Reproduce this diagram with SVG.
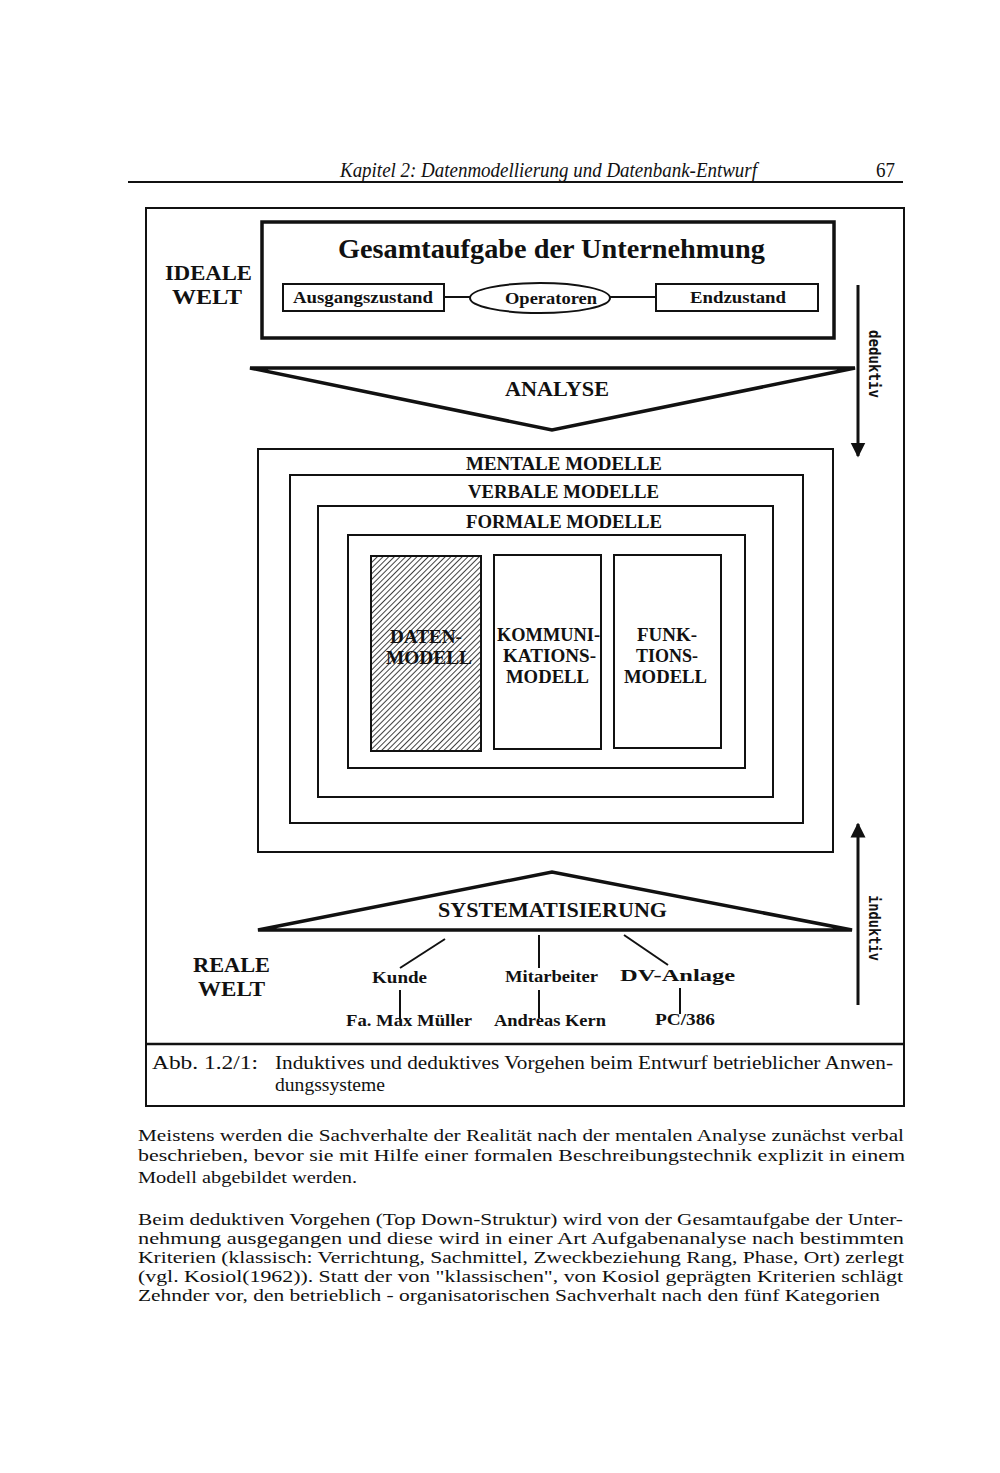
<svg xmlns="http://www.w3.org/2000/svg" width="1000" height="1473" viewBox="0 0 1000 1473">
<style>
.s{font-family:"Liberation Serif","Times New Roman",serif;fill:#111}
.b{font-weight:bold}
.box{fill:#fff;stroke:#111;stroke-width:2}
.ln{stroke:#111;stroke-width:2;fill:none}
.body{font-family:"Liberation Serif","Times New Roman",serif;font-size:16.5px;fill:#111}
.rot{font-family:"DejaVu Sans Mono","Liberation Mono",monospace;font-weight:bold;font-size:15px;fill:#111}
</style>
<defs>
<pattern id="hatch" patternUnits="userSpaceOnUse" width="4" height="4" patternTransform="rotate(45)">
<rect width="4" height="4" fill="#fff"/>
<line x1="0" y1="0" x2="0" y2="4" stroke="#111" stroke-width="1.6"/>
</pattern>
<marker id="ah" viewBox="0 0 10 10" refX="9" refY="5" markerWidth="5" markerHeight="6" orient="auto" markerUnits="strokeWidth">
<path d="M0,0 L10,5 L0,10 z" fill="#111"/>
</marker>
</defs>
<rect width="1000" height="1473" fill="#fff"/>

<g id="header">
<text class="s" x="340" y="177" font-size="20" font-style="italic" textLength="417" lengthAdjust="spacingAndGlyphs">Kapitel 2: Datenmodellierung und Datenbank-Entwurf</text>
<text class="s" x="876" y="177" font-size="20" textLength="19" lengthAdjust="spacingAndGlyphs">67</text>
<line x1="128" y1="182" x2="903" y2="182" stroke="#111" stroke-width="2"/>
</g>

<g id="frame">
<rect x="146" y="208" width="758" height="898" fill="none" stroke="#111" stroke-width="2"/>
<line x1="146" y1="1044" x2="904" y2="1044" stroke="#111" stroke-width="2.5"/>
</g>

<g id="ideale-welt">
<text class="s b" x="165" y="280" font-size="21" textLength="87" lengthAdjust="spacingAndGlyphs">IDEALE</text>
<text class="s b" x="172" y="304" font-size="21" textLength="70" lengthAdjust="spacingAndGlyphs">WELT</text>
</g>

<g id="gesamtaufgabe">
<rect x="262" y="222" width="572" height="116" fill="none" stroke="#111" stroke-width="3.5"/>
<text class="s b" x="338" y="258" font-size="28" textLength="427" lengthAdjust="spacingAndGlyphs">Gesamtaufgabe der Unternehmung</text>
</g>
<g id="ausgangszustand">
<rect class="box" x="283" y="284" width="161" height="27"/>
<text class="s b" x="293" y="303" font-size="16" textLength="140" lengthAdjust="spacingAndGlyphs">Ausgangszustand</text>
</g>
<g id="operatoren">
<ellipse cx="540" cy="298" rx="70" ry="15" class="box"/>
<text class="s b" x="505" y="304" font-size="16" textLength="92" lengthAdjust="spacingAndGlyphs">Operatoren</text>
</g>
<g id="endzustand">
<rect class="box" x="656" y="284" width="162" height="27"/>
<text class="s b" x="690" y="303" font-size="16" textLength="96" lengthAdjust="spacingAndGlyphs">Endzustand</text>
</g>

<g id="analyse">
<path d="M250,368 L855,368 L552,430 Z" fill="none" stroke="#111" stroke-width="3.5"/>
<text class="s b" x="505" y="396" font-size="20" textLength="104" lengthAdjust="spacingAndGlyphs">ANALYSE</text>
</g>

<g id="mentale">
<rect class="box" x="258" y="449" width="575" height="403"/>
<text class="s b" x="466" y="470" font-size="18" textLength="196" lengthAdjust="spacingAndGlyphs">MENTALE MODELLE</text>
</g>
<g id="verbale">
<rect class="box" x="290" y="475" width="513" height="348"/>
<text class="s b" x="468" y="498" font-size="18" textLength="191" lengthAdjust="spacingAndGlyphs">VERBALE MODELLE</text>
</g>
<g id="formale">
<rect class="box" x="318" y="506" width="455" height="291"/>
<text class="s b" x="466" y="528" font-size="18" textLength="196" lengthAdjust="spacingAndGlyphs">FORMALE MODELLE</text>
</g>
<g id="inner">
<rect class="box" x="348" y="535" width="397" height="233"/>
</g>
<g id="datenmodell">
<rect x="371" y="556" width="110" height="195" fill="url(#hatch)" stroke="#111" stroke-width="2"/>
<text class="s b" x="390" y="643" font-size="18" textLength="72" lengthAdjust="spacingAndGlyphs">DATEN-</text>
<text class="s b" x="386" y="664" font-size="18" textLength="86" lengthAdjust="spacingAndGlyphs">MODELL</text>
</g>
<g id="kommunikationsmodell">
<rect class="box" x="494" y="555" width="107" height="194"/>
<text class="s b" x="497" y="641" font-size="18" textLength="103" lengthAdjust="spacingAndGlyphs">KOMMUNI-</text>
<text class="s b" x="503" y="662" font-size="18" textLength="93" lengthAdjust="spacingAndGlyphs">KATIONS-</text>
<text class="s b" x="506" y="683" font-size="18" textLength="83" lengthAdjust="spacingAndGlyphs">MODELL</text>
</g>
<g id="funktionsmodell">
<rect class="box" x="614" y="555" width="107" height="193"/>
<text class="s b" x="637" y="641" font-size="18" textLength="60" lengthAdjust="spacingAndGlyphs">FUNK-</text>
<text class="s b" x="636" y="662" font-size="18" textLength="62" lengthAdjust="spacingAndGlyphs">TIONS-</text>
<text class="s b" x="624" y="683" font-size="18" textLength="83" lengthAdjust="spacingAndGlyphs">MODELL</text>
</g>

<g id="systematisierung">
<path d="M258,930 L852,930 L552,872 Z" fill="none" stroke="#111" stroke-width="3.5"/>
<text class="s b" x="438" y="917" font-size="20" textLength="229" lengthAdjust="spacingAndGlyphs">SYSTEMATISIERUNG</text>
</g>

<g id="reale-welt">
<text class="s b" x="193" y="972" font-size="21" textLength="77" lengthAdjust="spacingAndGlyphs">REALE</text>
<text class="s b" x="198" y="996" font-size="21" textLength="67" lengthAdjust="spacingAndGlyphs">WELT</text>
</g>
<g id="kunde"><text class="s b" x="372" y="983" font-size="16" textLength="55" lengthAdjust="spacingAndGlyphs">Kunde</text></g>
<g id="mitarbeiter"><text class="s b" x="505" y="982" font-size="16" textLength="93" lengthAdjust="spacingAndGlyphs">Mitarbeiter</text></g>
<g id="dv-anlage"><text class="s b" x="620" y="981" font-size="16" textLength="115" lengthAdjust="spacingAndGlyphs">DV-Anlage</text></g>
<g id="max-mueller"><text class="s b" x="346" y="1026" font-size="16" textLength="126" lengthAdjust="spacingAndGlyphs">Fa. Max Müller</text></g>
<g id="andreas-kern"><text class="s b" x="494" y="1026" font-size="16" textLength="112" lengthAdjust="spacingAndGlyphs">Andreas Kern</text></g>
<g id="pc386"><text class="s b" x="655" y="1025" font-size="16" textLength="60" lengthAdjust="spacingAndGlyphs">PC/386</text></g>

<g id="connectors">
<line class="ln" x1="444" y1="297" x2="470" y2="297"/>
<line class="ln" x1="610" y1="297" x2="656" y2="297"/>
<line class="ln" x1="445" y1="939" x2="400" y2="968"/>
<line class="ln" x1="539" y1="935" x2="539" y2="968"/>
<line class="ln" x1="624" y1="935" x2="668" y2="965"/>
<line class="ln" x1="400" y1="990" x2="400" y2="1020"/>
<line class="ln" x1="539" y1="990" x2="539" y2="1018"/>
<line class="ln" x1="680" y1="988" x2="680" y2="1014"/>
<line x1="858" y1="285" x2="858" y2="456" stroke="#111" stroke-width="3" marker-end="url(#ah)"/>
<line x1="858" y1="1005" x2="858" y2="824" stroke="#111" stroke-width="3" marker-end="url(#ah)"/>
</g>

<g id="deduktiv"><text class="rot" transform="translate(869,330) rotate(90)" textLength="68" lengthAdjust="spacingAndGlyphs">deduktiv</text></g>
<g id="induktiv"><text class="rot" transform="translate(869,895) rotate(90)" textLength="66" lengthAdjust="spacingAndGlyphs">induktiv</text></g>

<g id="caption">
<text class="s" x="152" y="1069" font-size="18" textLength="106" lengthAdjust="spacingAndGlyphs">Abb. 1.2/1:</text>
<text class="s" x="275" y="1069" font-size="18" textLength="618" lengthAdjust="spacingAndGlyphs">Induktives und deduktives Vorgehen beim Entwurf betrieblicher Anwen-</text>
<text class="s" x="275" y="1091" font-size="18" textLength="110" lengthAdjust="spacingAndGlyphs">dungssysteme</text>
</g>

<g id="bodytext">
<text class="body" x="138" y="1141" textLength="766" lengthAdjust="spacingAndGlyphs">Meistens werden die Sachverhalte der Realität nach der mentalen Analyse zunächst verbal</text>
<text class="body" x="138" y="1161" textLength="767" lengthAdjust="spacingAndGlyphs">beschrieben, bevor sie mit Hilfe einer formalen Beschreibungstechnik explizit in einem</text>
<text class="body" x="138" y="1183" textLength="219" lengthAdjust="spacingAndGlyphs">Modell abgebildet werden.</text>
<text class="body" x="138" y="1225" textLength="765" lengthAdjust="spacingAndGlyphs">Beim deduktiven Vorgehen (Top Down-Struktur) wird von der Gesamtaufgabe der Unter-</text>
<text class="body" x="138" y="1244" textLength="766" lengthAdjust="spacingAndGlyphs">nehmung ausgegangen und diese wird in einer Art Aufgabenanalyse nach bestimmten</text>
<text class="body" x="138" y="1263" textLength="766" lengthAdjust="spacingAndGlyphs">Kriterien (klassisch: Verrichtung, Sachmittel, Zweckbeziehung Rang, Phase, Ort) zerlegt</text>
<text class="body" x="138" y="1282" textLength="765" lengthAdjust="spacingAndGlyphs">(vgl. Kosiol(1962)). Statt der von "klassischen", von Kosiol geprägten Kriterien schlägt</text>
<text class="body" x="138" y="1301" textLength="742" lengthAdjust="spacingAndGlyphs">Zehnder vor, den betrieblich - organisatorischen Sachverhalt nach den fünf Kategorien</text>
</g>
</svg>
